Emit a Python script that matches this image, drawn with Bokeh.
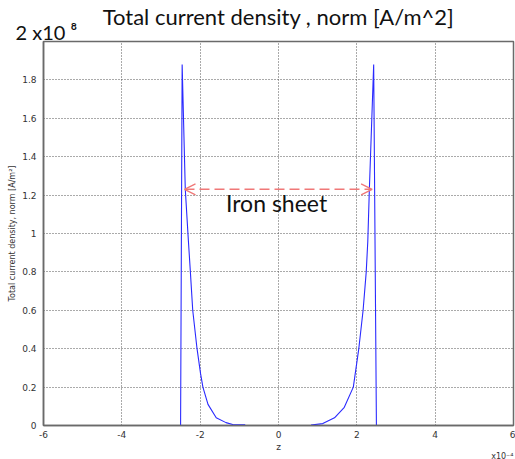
from bokeh.plotting import figure
from bokeh.models import Label, Arrow, OpenHead, FixedTicker, CustomJSTickFormatter, Title
from bokeh.embed import file_html
from bokeh.resources import INLINE

# z in units of 1e-4 m, current density in units of 1e8 A/m^2
left_z = [-2.50, -2.46, -2.38, -2.30, -2.25, -2.19, -2.08, -1.99, -1.93, -1.80, -1.59, -1.34, -1.17, -0.85]
left_j = [0.0, 1.88, 1.23, 0.96, 0.80, 0.60, 0.40, 0.27, 0.20, 0.11, 0.04, 0.015, 0.005, 0.003]
right_z = [0.83, 1.13, 1.43, 1.68, 1.91, 2.05, 2.16, 2.24, 2.28, 2.32, 2.43, 2.50]
right_j = [0.003, 0.01, 0.04, 0.095, 0.20, 0.40, 0.60, 0.80, 0.96, 1.23, 1.88, 0.0]

x_ticks = [-6, -4, -2, 0, 2, 4, 6]
y_ticks = [0, 0.2, 0.4, 0.6, 0.8, 1.0, 1.2, 1.4, 1.6, 1.8]
arrow_x = [-2.40, 2.39]
arrow_y = 1.23

title_text = "Total current density , norm [A/m^2]"
y_exponent_text = "2 x10 ⁸"
x_exponent_text = "x10⁻⁴"
ylabel_text = "Total current density, norm [A/m²]"
xlabel_text = "z"
annotation_text = "Iron sheet"

p = figure(width=515, height=459, x_range=(-6, 6), y_range=(0, 2),
           output_backend="svg", toolbar_location=None, title=title_text,
           min_border_left=43, min_border_top=41, min_border_right=2, min_border_bottom=34)
p.background_fill_color = "white"
p.border_fill_color = "white"
p.outline_line_color = "#6a6a6a"
p.outline_line_width = 1.5

# main title (outermost)
p.title.align = "center"
p.title.standoff = -19
p.title.text_font = "Lato"
p.title.text_font_size = "22px"
p.title.text_font_style = "normal"
p.title.text_color = "#111111"

# "2 x10^8" nearest the frame, left
p.add_layout(Title(text=y_exponent_text, align="left", offset=-28, standoff=-5, text_font="Lato",
                   text_font_size="20px", text_font_style="normal", text_color="#111111"),
             "above")

fmt = CustomJSTickFormatter(code="return (Math.round(tick*10)/10).toString();")
for ax in (p.xaxis[0], p.yaxis[0]):
    ax.formatter = fmt
    ax.major_tick_in = 0
    ax.major_tick_out = 0
    ax.minor_tick_in = 0
    ax.minor_tick_out = 0
    ax.axis_line_color = "#6a6a6a"
    ax.axis_line_width = 1.5
    ax.major_label_text_font = "DejaVu Sans"
    ax.major_label_text_font_size = "9px"
    ax.major_label_text_color = "#333333"
    ax.axis_label_text_font = "DejaVu Sans"
    ax.axis_label_text_font_style = "normal"
    ax.axis_label_text_color = "#333333"
p.xaxis[0].ticker = FixedTicker(ticks=x_ticks)
p.yaxis[0].ticker = FixedTicker(ticks=y_ticks)
p.xaxis[0].major_label_standoff = 5
p.yaxis[0].major_label_standoff = 7
p.xaxis[0].axis_label = xlabel_text
p.xaxis[0].axis_label_text_font_size = "9px"
p.xaxis[0].axis_label_standoff = 1
p.yaxis[0].axis_label = ylabel_text
p.yaxis[0].axis_label_text_font_size = "8px"
p.yaxis[0].axis_label_standoff = 2

# "x10^-4" at the bottom right
p.add_layout(Title(text=x_exponent_text, align="right", standoff=-10, text_font="DejaVu Sans",
                   text_font_size="8px", text_font_style="normal", text_color="#333333"),
             "below")

for g in (p.xgrid[0], p.ygrid[0]):
    g.grid_line_color = "#555555"
    g.grid_line_dash = "1 2"
    g.grid_line_width = 1
p.xgrid[0].ticker = FixedTicker(ticks=x_ticks)
p.ygrid[0].ticker = FixedTicker(ticks=y_ticks)

p.line(left_z, left_j, line_color="#2a2aff", line_width=1.1)
p.line(right_z, right_j, line_color="#2a2aff", line_width=1.1)

p.add_layout(Label(x=-0.05, y=1.16, text=annotation_text, text_font="Lato",
                   text_font_size="23px", text_align="center", text_baseline="middle",
                   text_color="#111111"))

p.add_layout(Arrow(start=OpenHead(size=11, line_color="#f07878", line_width=1.3),
                   end=OpenHead(size=11, line_color="#f07878", line_width=1.3),
                   x_start=arrow_x[0], y_start=arrow_y, x_end=arrow_x[1], y_end=arrow_y,
                   line_color="#f07878", line_width=1.5, line_dash="10 5"))

open("out.html", "w").write(file_html(p, INLINE))
